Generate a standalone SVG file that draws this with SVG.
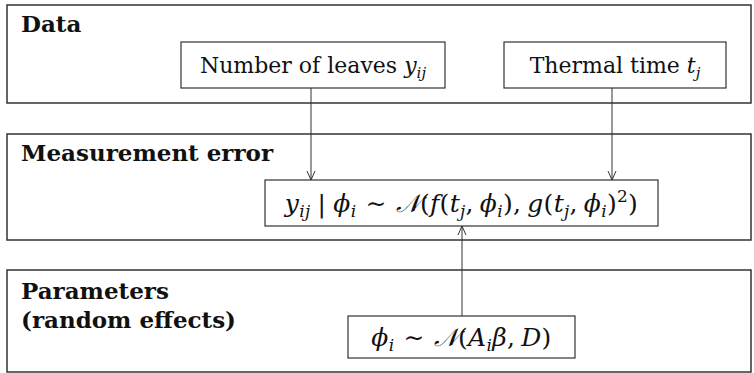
<svg xmlns="http://www.w3.org/2000/svg" width="754" height="373" viewBox="0 0 754 373">
<defs>
<style>
.panel{fill:#fff;stroke:#333;stroke-width:1.5}
.box{fill:#fff;stroke:#333;stroke-width:1.2}
.lbl{font-family:'DejaVu Serif',serif;font-weight:bold;font-size:23px;fill:#111}
.txt{font-family:'DejaVu Serif',serif;font-size:22px;fill:#111}
.math{font-family:'DejaVu Serif',serif;font-size:25px;fill:#111;letter-spacing:0.3px}
.m{font-style:italic}
.s{font-size:15px}
.s2{font-size:17px}
.edge{fill:none;stroke:#333;stroke-width:1}
</style>
<marker id="arr" viewBox="0 0 10 10" refX="10" refY="5" markerWidth="10" markerHeight="10" markerUnits="userSpaceOnUse" orient="auto">
<path d="M1,1 L10,5 L1,9" fill="none" stroke="#333" stroke-width="1"/>
</marker>
</defs>
<g id="panel-data">
<rect class="panel" x="7" y="5" width="744" height="98"/>
<text class="lbl" x="21" y="32">Data</text>
</g>
<g id="panel-measurement">
<rect class="panel" x="7" y="134" width="744" height="106"/>
<text class="lbl" x="21" y="161">Measurement error</text>
</g>
<g id="panel-parameters">
<rect class="panel" x="7" y="270" width="744" height="102"/>
<text class="lbl" x="21" y="299">Parameters</text>
<text class="lbl" x="21" y="328">(random effects)</text>
</g>
<g id="node-leaves">
<rect class="box" x="181" y="42" width="264" height="46"/>
<text class="txt" x="313" y="73" text-anchor="middle">Number of leaves <tspan class="m">y</tspan><tspan class="m s" dy="5">ij</tspan></text>
</g>
<g id="node-time">
<rect class="box" x="504" y="42" width="222" height="46"/>
<text class="txt" x="615" y="73" text-anchor="middle">Thermal time <tspan class="m">t</tspan><tspan class="m s" dy="5">j</tspan></text>
</g>
<g id="node-likelihood">
<rect class="box" x="265" y="180" width="393" height="46"/>
<text class="math" x="461.5" y="212" text-anchor="middle"><tspan class="m">y</tspan><tspan class="m s2" dy="5">ij</tspan><tspan dy="-5" dx="7">|</tspan><tspan class="m" dx="7">ϕ</tspan><tspan class="m s2" dy="5">i</tspan><tspan dy="-5" dx="9">∼</tspan><tspan class="m" dx="9">𝒩</tspan><tspan>(</tspan><tspan class="m">f</tspan><tspan>(</tspan><tspan class="m">t</tspan><tspan class="m s2" dy="5">j</tspan><tspan dy="-5">,</tspan><tspan class="m" dx="6">ϕ</tspan><tspan class="m s2" dy="5">i</tspan><tspan dy="-5">),</tspan><tspan class="m" dx="6">g</tspan><tspan>(</tspan><tspan class="m">t</tspan><tspan class="m s2" dy="5">j</tspan><tspan dy="-5">,</tspan><tspan class="m" dx="6">ϕ</tspan><tspan class="m s2" dy="5">i</tspan><tspan dy="-5">)</tspan><tspan class="s2" dy="-10">2</tspan><tspan dy="10">)</tspan></text>
</g>
<g id="node-prior">
<rect class="box" x="348" y="316" width="227" height="42"/>
<text class="math" x="461.5" y="346" text-anchor="middle"><tspan class="m">ϕ</tspan><tspan class="m s2" dy="5">i</tspan><tspan dy="-5" dx="9">∼</tspan><tspan class="m" dx="9">𝒩</tspan><tspan>(</tspan><tspan class="m">A</tspan><tspan class="m s2" dy="5">i</tspan><tspan class="m" dy="-5">β</tspan><tspan>,</tspan><tspan class="m" dx="6">D</tspan><tspan>)</tspan></text>
</g>
<g id="connectors">
<line class="edge" x1="311" y1="88" x2="311" y2="180" marker-end="url(#arr)"/>
<line class="edge" x1="612" y1="88" x2="612" y2="180" marker-end="url(#arr)"/>
<line class="edge" x1="462" y1="316" x2="462" y2="226" marker-end="url(#arr)"/>
</g>
</svg>
